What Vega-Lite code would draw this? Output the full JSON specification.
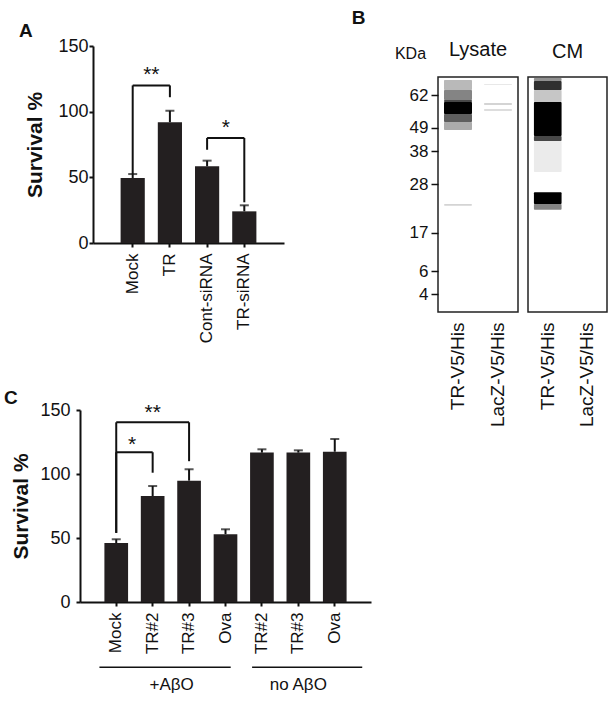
{
  "$schema": "https://vega.github.io/schema/vega-lite/v6.json",
  "background": "white",
  "padding": {"left": 3, "top": 9, "right": 0, "bottom": 0},
  "config": {
    "font": "Liberation Sans",
    "view": {"stroke": null},
    "axis": {"grid": false, "domainColor": "#111", "tickColor": "#111", "labelColor": "#111", "titleColor": "#111", "labelFont": "Liberation Sans", "titleFont": "Liberation Sans"},
    "title": {"font": "Liberation Sans", "color": "#111"}
  },
  "spacing": -20,
  "resolve": {"scale": {"x": "independent", "y": "independent", "color": "independent"}},
  "hconcat": [
    {
      "spacing": 46,
      "resolve": {"scale": {"x": "independent", "y": "independent"}},
      "vconcat": [
        {
          "width": 204,
          "height": 166,
          "title": {"text": "A", "anchor": "start", "frame": "bounds", "fontSize": 19, "fontWeight": "bold", "dx": -6, "offset": -4},
          "layer": [
            {
              "data": {"values": [
                {"group": "Mock", "survival": 49.5, "upper": 52.5},
                {"group": "TR", "survival": 92, "upper": 100.7},
                {"group": "Cont-siRNA", "survival": 58.4, "upper": 62.7},
                {"group": "TR-siRNA", "survival": 24.1, "upper": 28.7}
              ]},
              "layer": [
                {
                  "mark": {"type": "bar", "color": "#231f20"},
                  "encoding": {
                    "x": {"field": "group", "type": "nominal", "title": null,
                      "scale": {"domain": ["Mock", "TR", "Cont-siRNA", "TR-siRNA"], "range": [13, 204], "paddingInner": 0.35, "paddingOuter": 0.742},
                      "axis": {"labelAngle": -90, "labelFontSize": 17, "labelPadding": 6, "tickSize": 4, "tickWidth": 2, "domainWidth": 2}},
                    "y": {"field": "survival", "type": "quantitative", "title": "Survival %",
                      "scale": {"domain": [0, 150], "range": [166, -31], "nice": false},
                      "axis": {"values": [0, 50, 100, 150], "offset": -13, "titleFontSize": 21, "titleFontWeight": "bold", "titlePadding": 12, "labelFontSize": 18, "labelPadding": 1, "tickSize": 4, "tickWidth": 2, "domainWidth": 2}}
                  }
                },
                {
                  "mark": {"type": "rule", "strokeWidth": 2, "color": "#111"},
                  "encoding": {
                    "x": {"field": "group", "type": "nominal", "title": null},
                    "y": {"field": "survival", "type": "quantitative", "title": "Survival %"},
                    "y2": {"field": "upper"}
                  }
                },
                {
                  "mark": {"type": "tick", "thickness": 2, "color": "#111"},
                  "encoding": {
                    "x": {"field": "group", "type": "nominal", "title": null},
                    "y": {"field": "upper", "type": "quantitative", "title": "Survival %"},
                    "size": {"value": 9}
                  }
                }
              ]
            },
            {
              "data": {"values": [
                {"from": "Mock", "to": "TR", "top": 120, "low1": 52.5, "low2": 111, "stars": "**"},
                {"from": "Cont-siRNA", "to": "TR-siRNA", "top": 80, "low1": 71, "low2": 31, "stars": "*"}
              ]},
              "layer": [
                {
                  "mark": {"type": "rule", "strokeWidth": 2, "color": "#111"},
                  "encoding": {
                    "x": {"field": "from", "type": "nominal", "title": null},
                    "y": {"field": "low1", "type": "quantitative", "title": "Survival %"},
                    "y2": {"field": "top"}
                  }
                },
                {
                  "mark": {"type": "rule", "strokeWidth": 2, "color": "#111"},
                  "encoding": {
                    "x": {"field": "from", "type": "nominal", "title": null},
                    "x2": {"field": "to"},
                    "y": {"field": "top", "type": "quantitative", "title": "Survival %"}
                  }
                },
                {
                  "mark": {"type": "rule", "strokeWidth": 2, "color": "#111"},
                  "encoding": {
                    "x": {"field": "to", "type": "nominal", "title": null},
                    "y": {"field": "low2", "type": "quantitative", "title": "Survival %"},
                    "y2": {"field": "top"}
                  }
                },
                {
                  "mark": {"type": "text", "fontSize": 21, "dy": -10, "color": "#111"},
                  "encoding": {
                    "x": {"field": "from", "type": "nominal", "title": null, "bandPosition": 1.27},
                    "y": {"field": "top", "type": "quantitative", "title": "Survival %"},
                    "text": {"field": "stars"}
                  }
                }
              ]
            }
          ]
        },
        {
          "width": 291,
          "height": 192,
          "title": {"text": "C", "anchor": "start", "frame": "bounds", "fontSize": 19, "fontWeight": "bold", "dx": -7, "offset": -7},
          "layer": [
            {
              "data": {"values": [
                {"id": "Mock", "survival": 46, "upper": 49},
                {"id": "TR#2", "survival": 82.8, "upper": 90.6},
                {"id": "TR#3", "survival": 94.8, "upper": 103.7},
                {"id": "Ova", "survival": 53, "upper": 56.8},
                {"id": "TR#2 no", "survival": 116.7, "upper": 119.3},
                {"id": "TR#3 no", "survival": 116.7, "upper": 118.5},
                {"id": "Ova no", "survival": 117.4, "upper": 127.3}
              ]},
              "layer": [
                {
                  "mark": {"type": "bar", "color": "#231f20"},
                  "encoding": {
                    "x": {"field": "id", "type": "nominal", "title": null,
                      "scale": {"domain": ["Mock", "TR#2", "TR#3", "Ova", "TR#2 no", "TR#3 no", "Ova no"], "paddingInner": 0.35, "paddingOuter": 0.67},
                      "axis": {"labelAngle": -90, "labelFontSize": 17, "labelPadding": 6, "tickSize": 4, "tickWidth": 2, "domainWidth": 2, "labelExpr": "split(datum.label, ' ')[0]"}},
                    "y": {"field": "survival", "type": "quantitative", "title": "Survival %",
                      "scale": {"domain": [0, 150], "nice": false},
                      "axis": {"values": [0, 50, 100, 150], "titleFontSize": 21, "titleFontWeight": "bold", "titlePadding": 8, "labelFontSize": 18, "labelPadding": 6, "tickSize": 4, "tickWidth": 2, "domainWidth": 2}}
                  }
                },
                {
                  "mark": {"type": "rule", "strokeWidth": 2, "color": "#111"},
                  "encoding": {
                    "x": {"field": "id", "type": "nominal", "title": null},
                    "y": {"field": "survival", "type": "quantitative", "title": "Survival %"},
                    "y2": {"field": "upper"}
                  }
                },
                {
                  "mark": {"type": "tick", "thickness": 2, "color": "#111"},
                  "encoding": {
                    "x": {"field": "id", "type": "nominal", "title": null},
                    "y": {"field": "upper", "type": "quantitative", "title": "Survival %"},
                    "size": {"value": 9}
                  }
                }
              ]
            },
            {
              "data": {"values": [
                {"from": "Mock", "to": "TR#3", "top": 140.4, "low1": 54, "low2": 110, "stars": "**", "mid": "TR#2"},
                {"from": "Mock", "to": "TR#2", "top": 117, "low1": 54, "low2": 101, "stars": "*", "mid": "Mock"}
              ]},
              "layer": [
                {
                  "mark": {"type": "rule", "strokeWidth": 2, "color": "#111"},
                  "encoding": {
                    "x": {"field": "from", "type": "nominal", "title": null},
                    "y": {"field": "low1", "type": "quantitative", "title": "Survival %"},
                    "y2": {"field": "top"}
                  }
                },
                {
                  "mark": {"type": "rule", "strokeWidth": 2, "color": "#111"},
                  "encoding": {
                    "x": {"field": "from", "type": "nominal", "title": null},
                    "x2": {"field": "to"},
                    "y": {"field": "top", "type": "quantitative", "title": "Survival %"}
                  }
                },
                {
                  "mark": {"type": "rule", "strokeWidth": 2, "color": "#111"},
                  "encoding": {
                    "x": {"field": "to", "type": "nominal", "title": null},
                    "y": {"field": "low2", "type": "quantitative", "title": "Survival %"},
                    "y2": {"field": "top"}
                  }
                },
                {
                  "transform": [{"filter": "datum.stars == '**'"}],
                  "mark": {"type": "text", "fontSize": 21, "dy": -9, "color": "#111"},
                  "encoding": {
                    "x": {"field": "mid", "type": "nominal", "title": null},
                    "y": {"field": "top", "type": "quantitative", "title": "Survival %"},
                    "text": {"field": "stars"}
                  }
                },
                {
                  "transform": [{"filter": "datum.stars == '*'"}],
                  "mark": {"type": "text", "fontSize": 21, "dy": -7, "color": "#111"},
                  "encoding": {
                    "x": {"field": "mid", "type": "nominal", "title": null, "bandPosition": 1.17},
                    "y": {"field": "top", "type": "quantitative", "title": "Survival %"},
                    "text": {"field": "stars"}
                  }
                }
              ]
            },
            {
              "data": {"values": [
                {"label": "+AβO", "first": "Mock", "last": "Ova", "mid": "TR#2"},
                {"label": "no AβO", "first": "TR#2 no", "last": "Ova no", "mid": "TR#3 no"}
              ]},
              "layer": [
                {
                  "transform": [{"filter": "datum.label == '+AβO'"}],
                  "mark": {"type": "rule", "strokeWidth": 1.5, "color": "#111"},
                  "encoding": {
                    "x": {"field": "first", "type": "nominal", "title": null, "bandPosition": -0.21},
                    "x2": {"field": "last", "bandPosition": 0.72},
                    "y": {"datum": -51, "type": "quantitative", "title": "Survival %"}
                  }
                },
                {
                  "transform": [{"filter": "datum.label == 'no AβO'"}],
                  "mark": {"type": "rule", "strokeWidth": 1.5, "color": "#111"},
                  "encoding": {
                    "x": {"field": "first", "type": "nominal", "title": null, "bandPosition": 0.085},
                    "x2": {"field": "last", "bandPosition": 1.66},
                    "y": {"datum": -51, "type": "quantitative", "title": "Survival %"}
                  }
                },
                {
                  "transform": [{"filter": "datum.label == '+AβO'"}],
                  "mark": {"type": "text", "fontSize": 17, "color": "#111"},
                  "encoding": {
                    "x": {"field": "mid", "type": "nominal", "title": null, "bandPosition": 1.3},
                    "y": {"datum": -65, "type": "quantitative", "title": "Survival %"},
                    "text": {"field": "label"}
                  }
                },
                {
                  "transform": [{"filter": "datum.label == 'no AβO'"}],
                  "mark": {"type": "text", "fontSize": 17, "color": "#111"},
                  "encoding": {
                    "x": {"field": "mid", "type": "nominal", "title": null, "bandPosition": 0.5},
                    "y": {"datum": -65, "type": "quantitative", "title": "Survival %"},
                    "text": {"field": "label"}
                  }
                }
              ]
            }
          ]
        }
      ]
    },
    {
      "title": {"text": "B", "anchor": "start", "frame": "bounds", "fontSize": 19, "fontWeight": "bold", "dx": -42, "offset": 11},
      "spacing": 8,
      "resolve": {"scale": {"x": "independent", "y": "independent", "color": "independent"}},
      "hconcat": [
        {
          "width": 80,
          "height": 235,
          "view": {"stroke": "#222", "strokeWidth": 1.5},
          "title": {"text": "Lysate", "fontSize": 20, "fontWeight": "normal", "offset": -15},
          "data": {"values": [
            {"lane": "TR-V5/His", "hi": 67.85, "lo": 64.0, "intensity": 0.25},
            {"lane": "TR-V5/His", "hi": 64.0, "lo": 60.1, "intensity": 0.45},
            {"lane": "TR-V5/His", "hi": 60.1, "lo": 59.3, "intensity": 0.7},
            {"lane": "TR-V5/His", "hi": 59.3, "lo": 54.5, "intensity": 1.0},
            {"lane": "TR-V5/His", "hi": 54.5, "lo": 51.3, "intensity": 0.6},
            {"lane": "TR-V5/His", "hi": 51.3, "lo": 47.9, "intensity": 0.3},
            {"lane": "TR-V5/His", "hi": 23.5, "lo": 23.1, "intensity": 0.15},
            {"lane": "LacZ-V5/His", "hi": 66.3, "lo": 65.9, "intensity": 0.08},
            {"lane": "LacZ-V5/His", "hi": 58.9, "lo": 58.1, "intensity": 0.15},
            {"lane": "LacZ-V5/His", "hi": 56.5, "lo": 55.7, "intensity": 0.12}
          ]},
          "mark": {"type": "bar", "width": {"band": 0.7}, "cornerRadius": 1},
          "encoding": {
            "x": {"field": "lane", "type": "nominal", "title": null,
              "scale": {"domain": ["TR-V5/His", "LacZ-V5/His"], "paddingInner": 0, "paddingOuter": 0},
              "axis": {"labelAngle": -90, "labelFontSize": 19, "labelPadding": 10, "ticks": false, "domain": false}},
            "y": {"field": "hi", "type": "quantitative", "title": "KDa",
              "scale": {"domain": [2.5, 4, 6, 17, 28, 38, 49, 62, 69], "range": [235, 217.3, 194, 155.7, 107.3, 74.3, 50.7, 18.3, 0], "zero": false, "nice": false},
              "axis": {"values": [62, 49, 38, 28, 17, 6, 4], "tickSize": 7, "tickWidth": 1.5, "labelFontSize": 17, "labelPadding": 3, "domain": false, "titleAngle": 0, "titleX": -28, "titleY": -24, "titleFontSize": 16, "titleFontWeight": "normal", "titleAlign": "center", "titleBaseline": "middle"}},
            "y2": {"field": "lo"},
            "color": {"field": "intensity", "type": "quantitative", "scale": {"domain": [0, 1], "range": ["#ffffff", "#000000"]}, "legend": null}
          }
        },
        {
          "width": 79,
          "height": 235,
          "view": {"stroke": "#222", "strokeWidth": 1.5},
          "title": {"text": "CM", "fontSize": 20, "fontWeight": "normal", "offset": 15},
          "data": {"values": [
            {"lane": "TR-V5/His", "hi": 68.6, "lo": 67.5, "intensity": 0.4},
            {"lane": "TR-V5/His", "hi": 67.5, "lo": 64.0, "intensity": 0.8},
            {"lane": "TR-V5/His", "hi": 64.0, "lo": 59.3, "intensity": 0.2},
            {"lane": "TR-V5/His", "hi": 59.3, "lo": 45.1, "intensity": 1.0},
            {"lane": "TR-V5/His", "hi": 45.1, "lo": 42.8, "intensity": 0.7},
            {"lane": "TR-V5/His", "hi": 42.8, "lo": 31.7, "intensity": 0.07},
            {"lane": "TR-V5/His", "hi": 26.2, "lo": 23.5, "intensity": 1.0},
            {"lane": "TR-V5/His", "hi": 23.5, "lo": 22.2, "intensity": 0.45}
          ]},
          "mark": {"type": "bar", "width": {"band": 0.7}, "cornerRadius": 1},
          "encoding": {
            "x": {"field": "lane", "type": "nominal", "title": null,
              "scale": {"domain": ["TR-V5/His", "LacZ-V5/His"], "paddingInner": 0, "paddingOuter": 0},
              "axis": {"labelAngle": -90, "labelFontSize": 19, "labelPadding": 10, "ticks": false, "domain": false}},
            "y": {"field": "hi", "type": "quantitative",
              "scale": {"domain": [2.5, 4, 6, 17, 28, 38, 49, 62, 69], "range": [235, 217.3, 194, 155.7, 107.3, 74.3, 50.7, 18.3, 0], "zero": false, "nice": false},
              "axis": null},
            "y2": {"field": "lo"},
            "color": {"field": "intensity", "type": "quantitative", "scale": {"domain": [0, 1], "range": ["#ffffff", "#000000"]}, "legend": null}
          }
        }
      ]
    }
  ]
}
